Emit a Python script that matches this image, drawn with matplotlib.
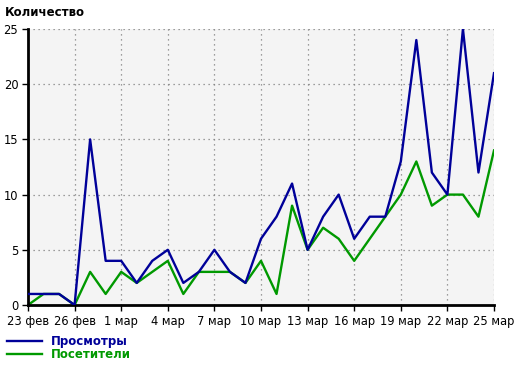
import matplotlib.pyplot as plt
import numpy as np

# daily stats, 23 Feb .. 25 Mar
days = ["23 фев", "24 фев", "25 фев", "26 фев", "27 фев", "28 фев"] + \
       ["%d мар" % d for d in range(1, 26)]
views = [1, 1, 1, 0, 15, 4, 4, 2, 4, 5, 2, 3, 5, 3, 2, 6, 8, 11, 5, 8,
         10, 6, 8, 8, 13, 24, 12, 10, 25, 12, 21]
visitors = [0, 1, 1, 0, 3, 1, 3, 2, 3, 4, 1, 3, 3, 3, 2, 4, 1, 9, 5, 7,
            6, 4, 6, 8, 10, 13, 9, 10, 10, 8, 14]
y_ticks = [0, 5, 10, 15, 20, 25]

x = np.arange(len(days))

fig = plt.figure(figsize=(5.2, 3.66), dpi=100)
ax = fig.add_axes([28 / 520, 1 - 305 / 366, 466 / 520, 276 / 366])
ax.set_facecolor("#f4f4f4")

ax.plot(x, views, color="#000099", lw=1.7, label="Просмотры", zorder=3)
ax.plot(x, visitors, color="#009900", lw=1.7, label="Посетители", zorder=2)

ax.set_xlim(0, len(days) - 1)
ax.set_ylim(0, 25)
ax.set_xticks(x[::3])
ax.set_xticklabels(days[::3])
ax.set_yticks(y_ticks)

# dotted grid, no top/right frame
ax.grid(True, color="#808080", linestyle=(0, (1, 3)), linewidth=0.9)
for s in ["top", "right"]:
    ax.spines[s].set_visible(False)
ax.spines["left"].set_linewidth(2)
ax.spines["bottom"].set_linewidth(2)
ax.tick_params(axis="both", labelsize=8.3, length=4, width=1, color="black",
               pad=3)

fig.text(5 / 520, 1 - 12 / 366, "Количество", fontsize=8.5, fontweight="bold",
         va="center", ha="left")

leg = fig.legend(loc="upper left", bbox_to_anchor=(2 / 520, 1 - 330 / 366),
                 frameon=False, labelcolor="linecolor",
                 prop={"weight": "bold", "size": 8.5}, handlelength=3.0,
                 handletextpad=0.7, labelspacing=0.0, borderaxespad=0)

plt.savefig("out.png", dpi=100)
plt.close()
